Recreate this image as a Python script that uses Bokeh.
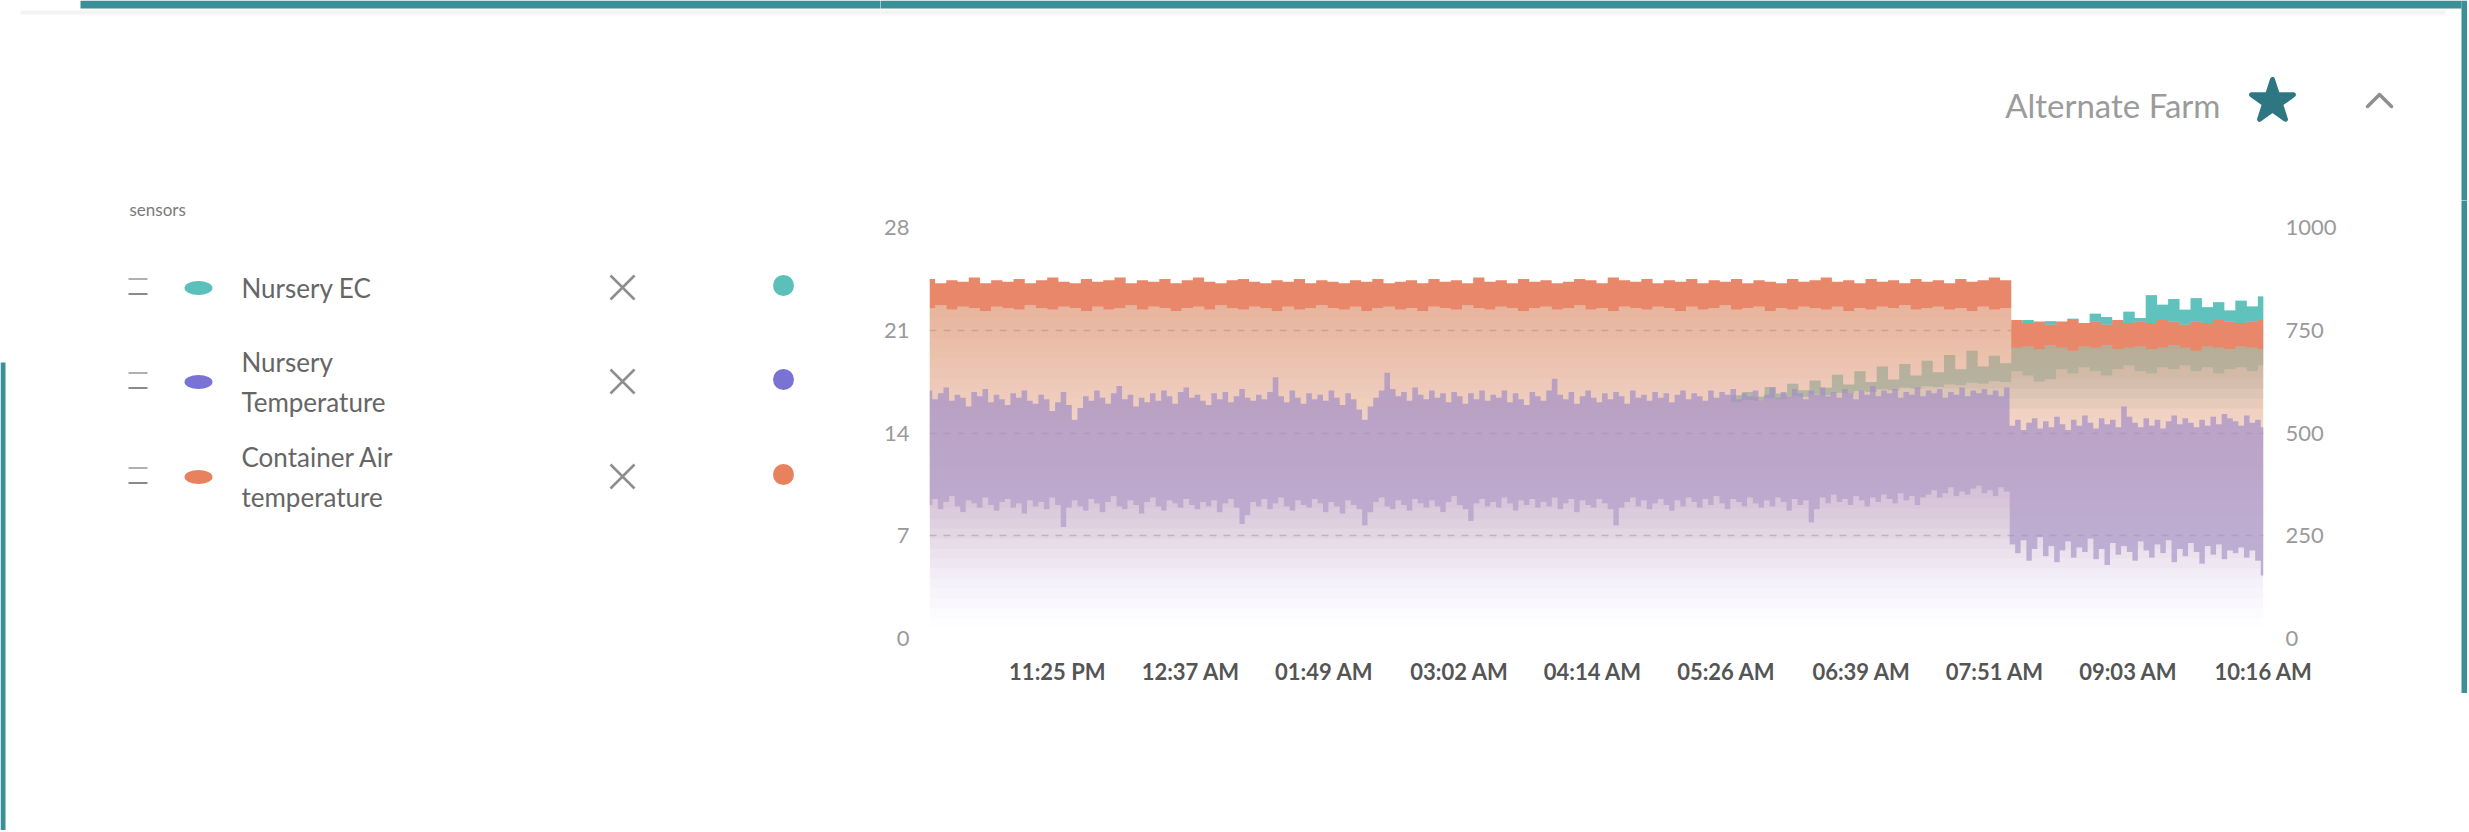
import numpy as np
import pandas as pd
from bokeh.plotting import figure
from bokeh.layouts import column, row
from bokeh.models import Range1d, LinearAxis, FixedTicker, DatetimeTickFormatter
from bokeh.core.properties import value
from bokeh.embed import file_html
from bokeh.resources import INLINE

# ---------------- data ----------------
t_start = "2023-05-01 22:16"
t_end = "2023-05-02 10:16"
tick_times = ["2023-05-01 23:25", "2023-05-02 00:37", "2023-05-02 01:49", "2023-05-02 03:02",
              "2023-05-02 04:14", "2023-05-02 05:26", "2023-05-02 06:39", "2023-05-02 07:51",
              "2023-05-02 09:03", "2023-05-02 10:16"]
left_ticks = [0, 7, 14, 21, 28]
right_ticks = [0, 250, 500, 750, 1000]

legend_lines = [["Nursery EC"], ["Nursery", "Temperature"], ["Container Air", "temperature"]]

# Container Air temperature (left axis): upper / lower envelope of the noisy trace
air_hi = [24.5, 24.2, 24.4, 24.3, 24.6, 24.2, 24.4, 24.3, 24.5, 24.2,
          24.4, 24.6, 24.3, 24.2, 24.5, 24.3, 24.4, 24.6, 24.2, 24.4,
          24.3, 24.5, 24.2, 24.4, 24.6, 24.3, 24.2, 24.4, 24.5, 24.3,
          24.2, 24.4, 24.3, 24.5, 24.2, 24.4, 24.3, 24.2, 24.4, 24.3,
          24.5, 24.2, 24.3, 24.4, 24.2, 24.5, 24.3, 24.4, 24.2, 24.6,
          24.3, 24.4, 24.2, 24.5, 24.3, 24.4, 24.2, 24.3, 24.5, 24.4,
          24.2, 24.6, 24.4, 24.3, 24.5, 24.2, 24.4, 24.3, 24.5, 24.2,
          24.4, 24.3, 24.5, 24.2, 24.4, 24.3, 24.2, 24.5, 24.3, 24.4,
          24.6, 24.3, 24.4, 24.2, 24.5, 24.3, 24.4, 24.2, 24.5, 24.3,
          24.4, 24.2, 24.5, 24.3, 24.4, 24.6, 24.4,
          21.7, 21.5, 21.6, 21.4, 21.6, 21.7, 21.5, 21.6, 21.4, 21.7,
          21.5, 21.6, 21.5, 21.7, 21.6, 21.4, 21.6, 21.5, 21.7, 21.6,
          21.5, 21.6, 21.7]
air_lo = [22.5, 22.7, 22.4, 22.6, 22.5, 22.3, 22.6, 22.5, 22.4, 22.7,
          22.5, 22.4, 22.6, 22.5, 22.3, 22.6, 22.4, 22.5, 22.7, 22.4,
          22.6, 22.5, 22.3, 22.5, 22.6, 22.4, 22.7, 22.5, 22.4, 22.6,
          22.5, 22.3, 22.6, 22.4, 22.5, 22.7, 22.5, 22.4, 22.6, 22.3,
          22.5, 22.6, 22.4, 22.5, 22.3, 22.6, 22.5, 22.4, 22.7, 22.5,
          22.4, 22.6, 22.5, 22.3, 22.5, 22.6, 22.4, 22.5, 22.7, 22.4,
          22.5, 22.3, 22.6, 22.5, 22.4, 22.6, 22.5, 22.3, 22.6, 22.4,
          22.5, 22.7, 22.4, 22.5, 22.6, 22.3, 22.5, 22.4, 22.6, 22.5,
          22.4, 22.6, 22.3, 22.5, 22.4, 22.6, 22.5, 22.7, 22.4, 22.5,
          22.6, 22.4, 22.5, 22.3, 22.6, 22.4, 22.5,
          19.8, 19.9, 19.7, 20.0, 19.8, 19.6, 19.9, 19.8, 20.0, 19.7,
          19.8, 19.9, 19.7, 19.8, 20.0, 19.8, 19.6, 19.9, 19.8, 19.7,
          19.9, 19.8, 19.7]

# Nursery Temperature (left axis), finer sampling
nt_hi = [16.9, 16.3, 16.7, 17.1, 16.2, 16.6, 16.4, 15.8, 16.8, 16.5,
         17.0, 16.1, 16.6, 16.3, 15.9, 16.7, 16.4, 16.9, 16.2, 16.0,
         16.6, 16.3, 15.5, 16.1, 16.8, 15.9, 14.9, 15.7, 16.5, 16.2,
         16.9, 16.4, 16.0, 16.7, 17.2, 16.3, 16.6, 15.8, 16.4, 16.1,
         16.7, 16.2, 16.9, 16.5, 16.0, 16.8, 17.1, 16.4, 16.6, 16.2,
         15.9, 16.7, 16.3, 16.8, 16.1, 16.5, 17.0, 16.4, 16.2, 16.6,
         16.3, 16.8, 17.8, 16.5, 16.1, 16.9, 16.4, 16.0, 16.7, 16.3,
         16.6, 16.2, 16.9, 16.4, 15.9, 16.7, 16.3, 15.6, 14.9, 15.8,
         16.4, 16.9, 18.1, 17.0, 16.5, 16.8, 16.2, 17.1, 16.6, 16.3,
         16.9, 16.4, 16.7, 16.1, 16.8, 16.5, 16.0, 16.7, 16.3, 16.9,
         16.2, 16.6, 16.4, 16.9, 16.1, 16.7, 16.3, 15.9, 16.8, 16.5,
         16.2, 16.9, 17.7, 16.6, 16.3, 16.8, 16.0, 16.5, 16.9, 16.4,
         16.1, 16.7, 16.3, 16.8, 16.5, 16.0, 16.9, 16.4, 16.6, 16.2,
         16.8, 16.4, 16.7, 16.1, 16.6, 16.9, 16.3, 16.7, 16.5, 16.2,
         16.9, 16.4, 16.8, 16.6, 17.0, 16.3, 16.7, 16.5, 16.9, 16.2,
         16.6, 17.1, 16.4, 16.8, 16.5, 17.0, 16.7, 16.3, 16.9, 16.6,
         17.1, 16.5, 16.8, 16.4, 17.0, 16.7, 16.3, 16.9, 16.6, 17.2,
         16.5, 16.9, 16.7, 17.0, 16.4, 16.8, 16.6, 17.1, 16.5, 16.9,
         16.7, 17.0, 16.4, 16.8, 16.6, 17.1, 16.5, 16.9, 16.7, 17.0,
         16.6, 16.9, 16.5, 17.1,
         14.5, 14.9, 14.2, 14.7, 15.0, 14.3, 14.8, 14.4, 15.1, 14.6,
         14.2, 14.9, 14.5, 15.2, 14.7, 14.3, 15.0, 14.6, 14.9, 14.4,
         15.8, 15.1, 14.7, 14.4, 15.0, 14.5, 14.9, 14.3, 14.8, 15.2,
         14.6, 15.0, 14.7, 14.4, 14.9, 14.5, 15.1, 14.6, 15.3, 15.0,
         14.8, 14.5, 15.2, 14.7, 14.9, 14.4]
nt_lo = [9.1, 9.5, 8.8, 9.3, 9.7, 9.0, 8.6, 9.4, 9.2, 8.9,
         9.6, 9.1, 8.7, 9.3, 9.5, 8.9, 9.2, 8.5, 9.4, 9.0,
         9.3, 8.8, 9.6, 9.1, 7.6, 8.9, 9.4, 9.0, 8.7, 9.5,
         9.2, 8.6, 9.3, 9.7, 9.0, 8.8, 9.4, 9.1, 8.5, 9.3,
         9.6, 9.0, 8.7, 9.4, 9.2, 8.9, 9.5, 9.1, 8.8, 9.3,
         9.0, 9.4, 8.6, 9.2, 9.5, 8.9, 7.8, 8.4, 9.3, 9.0,
         9.5, 8.8, 9.2, 9.6, 9.0, 8.7, 9.4, 9.1, 8.9, 9.5,
         9.2, 8.6, 9.3, 9.0, 8.5, 9.4, 9.1, 8.8, 7.7, 8.6,
         9.3, 9.6, 9.0, 8.8, 9.4, 9.1, 8.7, 9.5, 9.2, 8.9,
         9.4, 9.0, 8.6, 9.3, 9.7, 9.1, 8.8, 8.0, 9.2, 9.5,
         9.0, 9.3, 8.9, 9.6, 9.2, 8.7, 9.4, 9.1, 9.5, 8.9,
         9.3, 9.0, 9.6, 8.8, 9.2, 9.5, 8.6, 9.4, 9.1, 8.9,
         9.5, 9.2, 8.8, 7.7, 8.9, 9.3, 9.6, 9.0, 9.4, 8.8,
         9.2, 9.5, 9.1, 8.7, 9.4, 9.0, 9.6, 9.3, 8.9, 9.5,
         9.1, 9.7, 9.2, 8.8, 9.5, 9.3, 9.0, 9.6, 9.2, 8.9,
         9.4, 9.0, 9.6, 9.3, 8.7, 9.5, 9.1, 9.4, 7.9, 8.8,
         9.6, 9.2, 9.8, 9.3, 9.5, 9.1, 9.7, 9.4, 9.0, 9.6,
         9.3, 9.8, 9.5, 9.2, 9.9, 9.4, 9.7, 9.1, 9.6, 9.8,
         10.1, 9.6, 9.9, 10.3, 9.7, 10.0, 9.8, 10.2, 10.4, 9.9,
         10.1, 9.7, 10.3, 10.0,
         6.4, 5.8, 6.7, 5.3, 6.1, 6.9, 5.6, 6.3, 5.2, 6.0,
         6.6, 5.5, 6.2, 5.9, 6.8, 5.4, 6.1, 5.0, 6.5, 5.7,
         6.3, 5.9, 5.3, 6.6, 6.0, 5.5, 6.4, 5.8, 6.7, 5.2,
         6.1, 5.6, 6.5, 5.9, 5.1, 6.3, 5.7, 6.4, 5.4, 6.0,
         5.8, 6.2, 5.5, 6.0, 5.3, 4.3]

# Nursery EC (right axis), no readings before ~05:30
ec_hi = [None] * 72 + [
    592, 600, 588, 612, 596, 620, 604, 628, 610, 642,
    618, 650, 624, 662, 630, 668, 640, 676, 648, 690,
    655, 700, 662, 688, 670,
    760, 775, 755, 772, 765, 778, 760, 790, 782, 770,
    795, 780, 835, 812, 826, 800, 828, 806, 818, 798,
    822, 808, 832]
ec_lo = [None] * 72 + [
    575, 580, 578, 585, 582, 590, 588, 594, 592, 598,
    596, 602, 600, 606, 604, 610, 608, 614, 612, 618,
    616, 622, 620, 626, 624,
    650, 640, 625, 630, 655, 645, 660, 650, 640, 655,
    665, 650, 645, 660, 655, 665, 650, 660, 645, 655,
    660, 650, 665]

# ---------------- style ----------------
C_EC = "#5CC0BA"
C_NT = "#7B72D6"
C_AIR = "#E8825E"
C_AIR_BAND = "#E8876A"
C_NT_BAND = "#A38FC6"
C_NT_GRAD = "#968CD7"
C_TEAL_DARK = "#2E7782"
C_FRAME = "#3A9096"

WT, HT = 2467, 830          # page area used
HEAD_H = 200                # header strip height (right part)
LEFT_W = 880                # legend panel width
STRIP_W = 6                 # teal frame at the right edge
CW, CH = WT - LEFT_W, HT - HEAD_H
FRAME_L, FRAME_R, FRAME_T, FRAME_B = 929, 2263, 227, 638   # page coordinates


def panel(width, height, x0, y0):
    f = figure(width=width, height=height, output_backend="svg", toolbar_location=None,
               x_range=Range1d(x0, x0 + width), y_range=Range1d(y0 + height, y0),
               x_axis_location=None, y_axis_location=None, min_border=0)
    f.outline_line_color = None
    f.grid.grid_line_color = None
    f.background_fill_color = "white"
    f.border_fill_color = "white"
    return f


def put_text(f, x, y, s, size, color, align="left", font="Lato", style="normal"):
    f.text(x=[x], y=[y], text=[s], text_font=value(font), text_font_size=value(f"{size}px"),
           text_color=color, text_align=align, text_baseline="middle", text_font_style=style)


# ---------------- legend panel (left, full height) ----------------
leg = panel(LEFT_W, HT, 0, 0)
leg.quad(left=[80], right=[LEFT_W + 2], top=[0], bottom=[8], fill_color=C_FRAME, line_color=None)
leg.quad(left=[0], right=[5], top=[362], bottom=[HT], fill_color=C_FRAME, line_color=None)
leg.quad(left=[20], right=[LEFT_W + 2], top=[10], bottom=[14], fill_color="#f3f3f3", line_color=None)
put_text(leg, 129, 209, "sensors", 17, "#7a7a7a")
row_y = [287, 381, 476]
colors = [C_EC, C_NT, C_AIR]
for cy, lines, col in zip(row_y, legend_lines, colors):
    leg.rect(x=[137.5, 137.5], y=[cy - 8.5, cy + 6.5], width=19, height=2.2,
             fill_color=["#b0b0b0", "#8a8a8a"], line_color=None)
    leg.ellipse(x=[198], y=[cy + 0.5], width=28, height=14, fill_color=col, line_color=None)
    if len(lines) == 1:
        put_text(leg, 241, cy, lines[0], 26, "#666666")
    else:
        put_text(leg, 241, cy - 20, lines[0], 26, "#666666")
        put_text(leg, 241, cy + 20, lines[1], 26, "#666666")
    leg.scatter(x=[622], y=[cy], marker="x", size=34, line_width=2.6, line_color="#8e8e8e")
    leg.circle(x=[783], y=[cy - 2], radius=10.5, fill_color=col, line_color=None)

# ---------------- header (right part) ----------------
head = panel(CW, HEAD_H, LEFT_W, 0)
head.quad(left=[LEFT_W - 2], right=[WT - STRIP_W], top=[0], bottom=[8], fill_color=C_FRAME, line_color=None)
head.quad(left=[WT - STRIP_W], right=[WT], top=[0], bottom=[HEAD_H], fill_color=C_FRAME, line_color=None)
head.quad(left=[LEFT_W - 2], right=[2445], top=[10], bottom=[14], fill_color="#f3f3f3", line_color=None)
put_text(head, 2220, 104, "Alternate Farm", 33, "#9b9b9b", align="right")
head.scatter(x=[2272], y=[101], marker="star", size=44, fill_color=C_TEAL_DARK,
             line_color=C_TEAL_DARK, line_width=5, line_join="round")
head.line(x=[2367, 2379, 2391], y=[106, 94, 106], line_width=3.5, line_color="#8f8f8f",
          line_cap="round", line_join="round")

# teal frame continuing down the right edge
strip = figure(width=STRIP_W, height=493, output_backend="svg", toolbar_location=None,
               x_axis_location=None, y_axis_location=None, min_border=0)
strip.outline_line_color = None
strip.grid.grid_line_color = None
strip.background_fill_color = C_FRAME
strip.border_fill_color = C_FRAME

# ---------------- chart ----------------
t_air = pd.date_range(t_start, t_end, periods=len(air_hi)).values
t_nt = pd.date_range(t_start, t_end, periods=len(nt_hi)).values
tick_ms = [pd.Timestamp(s).value / 1e6 for s in tick_times]

p = figure(width=CW - STRIP_W, height=CH, output_backend="svg", toolbar_location=None,
           x_axis_type="datetime",
           x_range=Range1d(pd.Timestamp(t_start), pd.Timestamp(t_end)),
           y_range=Range1d(0, 28),
           min_border_left=FRAME_L - LEFT_W, min_border_right=WT - STRIP_W - FRAME_R,
           min_border_top=FRAME_T - HEAD_H, min_border_bottom=HT - FRAME_B)
p.extra_y_ranges = {"ec": Range1d(0, 1000)}
p.outline_line_color = None
p.background_fill_color = "white"
p.border_fill_color = "white"

fmt = "%I:%M %p"
p.xaxis.ticker = FixedTicker(ticks=tick_ms)
p.xaxis.formatter = DatetimeTickFormatter(microseconds=fmt, milliseconds=fmt, seconds=fmt,
                                          minsec=fmt, minutes=fmt, hourmin=fmt, hours=fmt,
                                          days=fmt, months=fmt, years=fmt)
for ax in [p.xaxis[0], p.yaxis[0]]:
    ax.axis_line_color = None
    ax.major_tick_line_color = None
    ax.minor_tick_line_color = None
p.xaxis.major_label_text_font = "Lato"
p.xaxis.major_label_text_font_size = "22px"
p.xaxis.major_label_text_font_style = "bold"
p.xaxis.major_label_text_color = "#555555"
p.xaxis.major_label_standoff = 13

p.yaxis.ticker = FixedTicker(ticks=left_ticks)
p.yaxis.major_label_text_font = "Lato"
p.yaxis.major_label_text_font_size = "22px"
p.yaxis.major_label_text_color = "#9a9a9a"
p.yaxis.major_label_standoff = 14

rax = LinearAxis(y_range_name="ec", ticker=FixedTicker(ticks=right_ticks),
                 axis_line_color=None, major_tick_line_color=None, minor_tick_line_color=None,
                 major_label_text_font="Lato", major_label_text_font_size="22px",
                 major_label_text_color="#9a9a9a", major_label_standoff=16)
p.add_layout(rax, "right")

p.xgrid.grid_line_color = None
p.ygrid.ticker = FixedTicker(ticks=left_ticks)
p.ygrid.grid_line_color = "#d0d0d0"
p.ygrid.grid_line_width = 1.5
p.ygrid.grid_line_dash = "7 7"

NPX = FRAME_B - FRAME_T
STEP = 10


def arr(v):
    return np.array([np.nan if a is None else a for a in v], dtype=float)


def gradient(t, lo, vmax, color, A, yname="default"):
    """screen-space vertical gradient under the lower envelope, made of stacked layers
    sharing the envelope edge; A(f) = wanted cumulative opacity at height fraction f"""
    lo = arr(lo)
    prev = 0.0
    for k in range(0, NPX, STEP):
        target = A((k + STEP / 2) / NPX)
        if target <= prev + 1e-4:
            continue
        alpha = 1 - (1 - target) / (1 - prev)
        prev = target
        a = vmax * k / NPX
        y1 = np.where(lo > a, a, lo)
        p.varea_step(x=t, y1=y1, y2=lo, step_mode="center",
                     fill_color=color, fill_alpha=alpha, y_range_name=yname)


def band(t, lo, hi, color, alpha, yname="default"):
    p.varea_step(x=t, y1=arr(lo), y2=arr(hi), step_mode="center",
                 fill_color=color, fill_alpha=alpha, y_range_name=yname)


gradient(t_air, ec_lo, 1000, C_EC, lambda f: float(np.clip(0.28 * (f - 0.55) / 0.1, 0, 0.28)), "ec")
band(t_air, ec_lo, ec_hi, C_EC, 0.55, "ec")
gradient(t_air, air_lo, 28, C_AIR, lambda f: float(np.clip(0.62 * (f - 0.12) / 0.75, 0, 0.62)))
gradient(t_nt, nt_lo, 28, C_NT_GRAD, lambda f: float(np.clip(f - 0.03, 0, 0.4)))
band(t_nt, nt_lo, nt_hi, C_NT_BAND, 0.7)
band(t_air, air_lo, air_hi, C_AIR_BAND, 1.0)
# EC readings that rise above the air-temperature trace stay fully visible
ec_hi_a = arr(ec_hi)
ec_top_lo = np.minimum(np.maximum(arr(ec_lo), arr(air_hi) * 1000 / 28), ec_hi_a)
p.varea_step(x=t_air, y1=ec_top_lo, y2=ec_hi_a, step_mode="center",
             fill_color=C_EC, fill_alpha=0.95, y_range_name="ec")

layout = row(leg, column(head, row(p, column(strip))))
open("out.html", "w").write(file_html(layout, INLINE))
